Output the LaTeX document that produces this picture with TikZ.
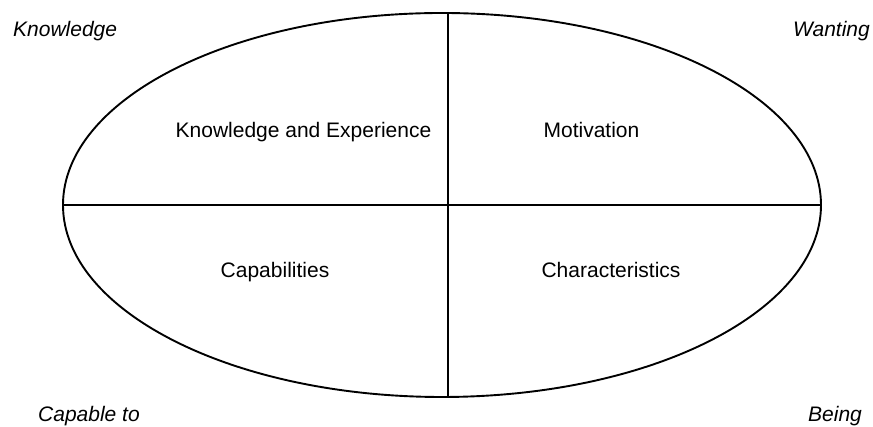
\documentclass[tikz,border=0pt]{standalone}
\usepackage{fontspec}
\setmainfont{Liberation Sans}
\usetikzlibrary{shapes.geometric}
\begin{document}
\begin{tikzpicture}[x=1pt,y=1pt,
  rule/.style={line width=1.9pt, black},
  quadlabel/.style={anchor=base, inner sep=0pt, font=\fontsize{21}{25}\selectfont},
  cornerlabel/.style={inner sep=0pt, font=\fontsize{21}{25}\selectfont\itshape}]
\useasboundingbox (0,0) rectangle (873,427);
% the oval and its quarters
\node[draw, rule, ellipse, inner sep=0pt, minimum width=758pt, minimum height=384pt] (oval) at (442,222) {};
\coordinate (vtop) at (448,414);
\coordinate (vbot) at (448,30);
\draw[rule] (oval.west) -- (oval.east);
\draw[rule] (vtop) -- (vbot);
% quarter labels
\node[quadlabel] (ke) at (303.5,289) {Knowledge and Experience};
\node[quadlabel] (mo) at (591.5,289) {Motivation};
\node[quadlabel] (ca) at (275,149) {Capabilities};
\node[quadlabel] (ch) at (611,149) {Characteristics};
% corner labels
\node[cornerlabel, anchor=base west] (kn) at (13,390) {Knowledge};
\node[cornerlabel, anchor=base east] (wa) at (870,390) {Wanting};
\node[cornerlabel, anchor=base west] (cp) at (38,5) {Capable to};
\node[cornerlabel, anchor=base west] (be) at (808,5) {Being};
\end{tikzpicture}
\end{document}
